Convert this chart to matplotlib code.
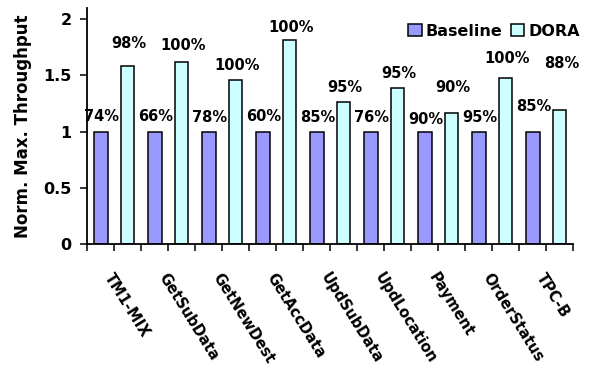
import matplotlib
matplotlib.use("Agg")
import matplotlib.pyplot as plt
import numpy as np

categories = ["TM1-MIX", "GetSubData", "GetNewDest", "GetAccData", "UpdSubData",
              "UpdLocation", "Payment", "OrderStatus", "TPC-B"]
baseline = [1.0, 1.0, 1.0, 1.0, 1.0, 1.0, 1.0, 1.0, 1.0]
dora = [1.58, 1.62, 1.46, 1.815, 1.26, 1.39, 1.17, 1.475, 1.19]
baseline_pct = ["74%", "66%", "78%", "60%", "85%", "76%", "90%", "95%", "85%"]
dora_pct = ["98%", "100%", "100%", "100%", "95%", "95%", "90%", "100%", "88%"]
yticks = [0, 0.5, 1, 1.5, 2]
ytick_labels = ["0", "0.5", "1", "1.5", "2"]

# label lift above bar tops (pixels)
base_lift = [15, 15, 14, 15, 14, 14, 12, 14, 25]
dora_lift = [23, 16, 14, 12, 15, 14, 25, 20, 47]

plt.rcParams['font.family'] = ['DejaVu Sans']
plt.rcParams['font.weight'] = 'bold'
FS = 10.5

fig = plt.figure(figsize=(5.92, 3.75), dpi=100)
ax = fig.add_axes([0.147, 0.349, 0.821, 0.63])

x = np.arange(len(categories))
w = 0.25
off = 0.245
ax.bar(x - off, baseline, w, color="#9999FF", edgecolor="black", linewidth=1.1, label="Baseline")
ax.bar(x + off, dora, w, color="#CCFFFF", edgecolor="black", linewidth=1.1, label="DORA")

for xi, h, t, l in zip(x - off, baseline, baseline_pct, base_lift):
    ax.annotate(t, (xi, h), xytext=(1, l), textcoords="offset pixels",
                ha="center", va="center", fontsize=FS, fontweight="bold")
for xi, h, t, l in zip(x + off, dora, dora_pct, dora_lift):
    ax.annotate(t, (xi, h), xytext=(2, l), textcoords="offset pixels",
                ha="center", va="center", fontsize=FS, fontweight="bold")

ax.set_xlim(-0.5, len(categories) - 0.5)
ax.set_ylim(0, 2.1)
ax.set_yticks(yticks)
ax.set_yticklabels(ytick_labels, fontsize=11.5, fontweight="bold")
ax.set_xticks(np.arange(-0.5, len(categories), 0.5))
ax.set_xticklabels([])
ax.tick_params(axis="both", direction="out", length=5, width=1.1, color="black")
ax.tick_params(axis="y", pad=6)

for xi, c in zip(x, categories):
    ax.annotate(c, (xi, 0), xytext=(-6, -30), textcoords="offset pixels",
                rotation=-58, rotation_mode="anchor", ha="left", va="center",
                fontsize=10.5, fontweight="bold")

for s in ["top", "right"]:
    ax.spines[s].set_visible(False)
for s in ["left", "bottom"]:
    ax.spines[s].set_linewidth(1.3)

ax.set_ylabel("Norm. Max. Throughput", fontsize=12, fontweight="bold", labelpad=8)

ax.legend(loc="center right", bbox_to_anchor=(0.99, 1 - 31 / 375), bbox_transform=fig.transFigure,
          ncol=2, frameon=False, prop={"size": 11.5, "weight": "bold"},
          handlelength=0.85, handleheight=0.85,
          handletextpad=0.25, columnspacing=0.5, borderaxespad=0)

fig.savefig("out.png", dpi=100)
